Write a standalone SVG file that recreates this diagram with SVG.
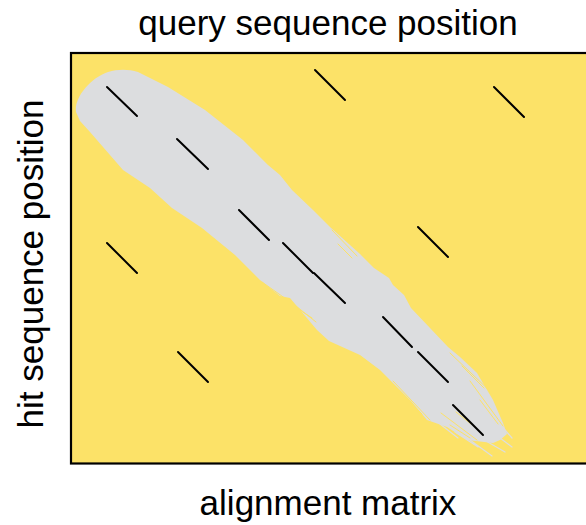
<svg xmlns="http://www.w3.org/2000/svg" width="586" height="525" viewBox="0 0 586 525">
  <style>
    .label { font-family: "Liberation Sans", Arial, Helvetica, sans-serif; font-size: 35px; fill: #000; }
    .match { stroke: #000; stroke-width: 2; stroke-linecap: round; fill: none; }
    .fray-y { stroke: #fce268; stroke-width: 1; stroke-linecap: round; fill: none; }
    .fray-g { stroke: #dcdddf; stroke-width: 1.2; stroke-linecap: round; fill: none; }
  </style>

  <!-- matrix background -->
  <g id="matrix">
    <rect x="71" y="53" width="530" height="410.5" fill="#fce268" stroke="#000" stroke-width="2.2"/>
  </g>

  <!-- brushed band marking the alignment path -->
  <g id="band">
    <path fill="#dcdddf" d="M 76,112 C 74,98 90,78 108,72 C 118,69 128,69 138,72
      L 168,87 L 205,110 L 243,140 L 258,155 L 268,165 L 280,175 L 292,190 L 313,210
      L 330,227 L 360,254 L 374,268 L 389,278 L 393,285 L 404,295 L 411,308 L 430,328
      L 448,347 L 460,357 L 477,373 L 493,400 L 503,423 L 507,434 L 500,440 L 493,443
      L 467,440 L 447,427 L 427,420 L 411,401 L 380,370 L 360,355 L 329,341 L 317,330
      L 290,298 L 280,296 L 260,280 L 235,255 L 202,228 L 172,208 L 150,188 L 123,170
      L 90,132 L 80,121 Z"/>
    <!-- dry-brush streaks -->
    <path class="fray-y" d="M 262,282 L 286,299 M 272,292 L 312,318 M 296,306 L 316,322
      M 332,230 L 357,256 M 338,244 L 352,258
      M 360,356 L 381,372 M 366,364 L 392,384 M 393,381 L 430,420 M 400,392 L 422,414
      M 441,413 L 477,440 M 450,425 L 470,438
      M 450,353 L 492,393 M 462,366 L 484,388 M 470,381 L 503,426 M 480,400 L 498,424
      M 456,412 L 471,424"/>
    <path class="fray-g" d="M 486,441 L 505,452 M 470,440 L 492,456 M 500,438 L 512,447
      M 455,432 L 478,447 M 505,430 L 512,438 M 440,424 L 458,438"/>
  </g>

  <!-- dot-plot word matches -->
  <g id="matches">
    <line class="match" x1="107" y1="87" x2="137" y2="116"/>
    <line class="match" x1="177" y1="139" x2="208" y2="169"/>
    <line class="match" x1="239" y1="210" x2="269" y2="240"/>
    <line class="match" x1="283" y1="243" x2="313" y2="273"/>
    <line class="match" x1="314" y1="273" x2="345" y2="303"/>
    <line class="match" x1="383" y1="317" x2="412" y2="347"/>
    <line class="match" x1="418" y1="352" x2="448" y2="382"/>
    <line class="match" x1="453" y1="405" x2="483" y2="435"/>
    <line class="match" x1="315" y1="70" x2="345" y2="100"/>
    <line class="match" x1="494" y1="87" x2="524" y2="117"/>
    <line class="match" x1="107" y1="243" x2="137" y2="273"/>
    <line class="match" x1="178" y1="352" x2="208" y2="382"/>
    <line class="match" x1="418" y1="227" x2="448" y2="257"/>
  </g>

  <!-- axis titles and caption -->
  <g id="labels">
    <text class="label" x="328" y="35" text-anchor="middle">query sequence position</text>
    <text class="label" text-anchor="middle" transform="translate(43,264) rotate(-90)">hit sequence position</text>
    <text class="label" x="328" y="515" text-anchor="middle">alignment matrix</text>
  </g>
</svg>
